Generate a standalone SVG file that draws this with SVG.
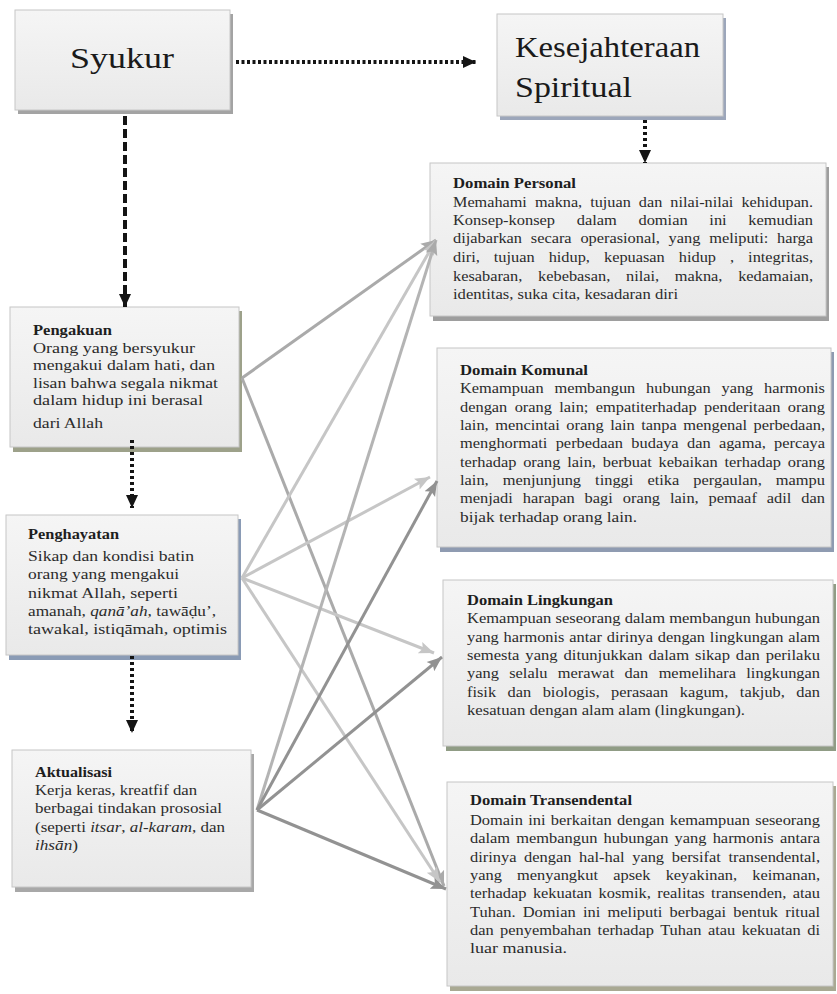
<svg xmlns="http://www.w3.org/2000/svg" width="837" height="994" viewBox="0 0 837 994">
<style>
.face{fill:url(#faceGrad);stroke:#c6c6c6;stroke-width:1}
.t{font-family:'Liberation Serif','Times New Roman',serif;fill:#2b2b2b}
.r{font-size:14px}
.l{font-size:15px}
.b{font-weight:bold;fill:#1e1e1e}
.big{font-size:30px;fill:#1a1a1a}
.blk{fill:none;stroke:#141414;stroke-width:4}
.gl{fill:none;stroke-width:3}
</style>
<defs>
<linearGradient id="faceGrad" x1="0" y1="0" x2="0" y2="1">
<stop offset="0" stop-color="#f5f5f5"/>
<stop offset="1" stop-color="#e9e9e9"/>
</linearGradient>
<marker id="aBlk" markerUnits="userSpaceOnUse" markerWidth="14" markerHeight="14" viewBox="0 0 14 14" refX="13" refY="7" orient="auto">
<path d="M0,1 L13,7 L0,13 z" fill="#141414"/>
</marker>
<marker id="aL" markerUnits="userSpaceOnUse" markerWidth="16" markerHeight="14" viewBox="0 0 16 14" refX="15" refY="7" orient="auto">
<path d="M0,1 L15,7 L0,13 L3,7 z" fill="#c6c6c6"/>
</marker>
<marker id="aM" markerUnits="userSpaceOnUse" markerWidth="16" markerHeight="14" viewBox="0 0 16 14" refX="15" refY="7" orient="auto">
<path d="M0,1 L15,7 L0,13 L3,7 z" fill="#aaaaaa"/>
</marker>
<marker id="aD" markerUnits="userSpaceOnUse" markerWidth="16" markerHeight="14" viewBox="0 0 16 14" refX="15" refY="7" orient="auto">
<path d="M0,1 L15,7 L0,13 L3,7 z" fill="#929292"/>
</marker>
</defs>
<rect width="837" height="994" fill="#ffffff"/>

<g id="syukur">
<rect x="18" y="14" width="215" height="100" fill="#a3a3a3"/>
<rect class="face" x="15" y="10" width="215" height="100"/>
<text class="t big" x="70" y="68" textLength="104" lengthAdjust="spacingAndGlyphs">Syukur</text>
</g>

<g id="kesejahteraan">
<rect x="500" y="18" width="226" height="102" fill="#9ca6ba"/>
<rect class="face" x="497" y="14" width="226" height="102"/>
<text class="t big" x="515" y="57" textLength="185" lengthAdjust="spacingAndGlyphs">Kesejahteraan</text>
<text class="t big" x="515" y="97" textLength="117" lengthAdjust="spacingAndGlyphs">Spiritual</text>
</g>

<g id="pengakuan">
<rect x="13" y="311" width="229" height="141" fill="#9da18a"/>
<rect class="face" x="10" y="307" width="229" height="140"/>
<text class="t l b" x="33" y="335" textLength="79" lengthAdjust="spacingAndGlyphs">Pengakuan</text>
<text class="t l" x="33" y="353" textLength="162" lengthAdjust="spacingAndGlyphs">Orang yang bersyukur</text>
<text class="t l" x="33" y="370" textLength="182" lengthAdjust="spacingAndGlyphs">mengakui dalam hati, dan</text>
<text class="t l" x="33" y="388" textLength="185" lengthAdjust="spacingAndGlyphs">lisan bahwa segala nikmat</text>
<text class="t l" x="33" y="405" textLength="170" lengthAdjust="spacingAndGlyphs">dalam hidup ini berasal</text>
<text class="t l" x="33" y="428" textLength="70" lengthAdjust="spacingAndGlyphs">dari Allah</text>
</g>

<g id="penghayatan">
<rect x="9" y="519" width="232" height="141" fill="#8a9bb5"/>
<rect class="face" x="6" y="515" width="232" height="140"/>
<text class="t l b" x="28" y="539" textLength="91" lengthAdjust="spacingAndGlyphs">Penghayatan</text>
<text class="t l" x="28" y="561" textLength="166" lengthAdjust="spacingAndGlyphs">Sikap dan kondisi batin</text>
<text class="t l" x="28" y="579" textLength="151" lengthAdjust="spacingAndGlyphs">orang yang mengakui</text>
<text class="t l" x="28" y="598" textLength="150" lengthAdjust="spacingAndGlyphs">nikmat Allah, seperti</text>
<text class="t l" x="28" y="616" textLength="188" lengthAdjust="spacingAndGlyphs">amanah, <tspan font-style="italic">qanā’ah</tspan>, tawāḍu’,</text>
<text class="t l" x="28" y="634" textLength="199" lengthAdjust="spacingAndGlyphs">tawakal, istiqāmah, optimis</text>
</g>

<g id="aktualisasi">
<rect x="15" y="754" width="239" height="138" fill="#a8a8a8"/>
<rect class="face" x="12" y="750" width="239" height="137"/>
<text class="t l b" x="35" y="777" textLength="77" lengthAdjust="spacingAndGlyphs">Aktualisasi</text>
<text class="t l" x="35" y="795" textLength="162" lengthAdjust="spacingAndGlyphs">Kerja keras, kreatfif dan</text>
<text class="t l" x="35" y="813" textLength="187" lengthAdjust="spacingAndGlyphs">berbagai tindakan prososial</text>
<text class="t l" x="35" y="832" textLength="190" lengthAdjust="spacingAndGlyphs">(seperti <tspan font-style="italic">itsar</tspan>, <tspan font-style="italic">al-karam</tspan>, dan</text>
<text class="t l" x="35" y="850" textLength="43" lengthAdjust="spacingAndGlyphs"><tspan font-style="italic">ihsān</tspan>)</text>
</g>

<g id="domain-personal">
<rect x="433" y="167" width="396" height="154" fill="#9e9e9e"/>
<rect class="face" x="430" y="163" width="396" height="153"/>
<text class="t r b" x="453" y="188" textLength="123" lengthAdjust="spacingAndGlyphs">Domain Personal</text>
<text class="t r" x="453" y="207" textLength="360" lengthAdjust="spacingAndGlyphs" word-spacing="3.5">Memahami makna, tujuan dan nilai-nilai kehidupan.</text>
<text class="t r" x="453" y="225" textLength="360" lengthAdjust="spacingAndGlyphs" word-spacing="15">Konsep-konsep dalam domian ini kemudian</text>
<text class="t r" x="453" y="243" textLength="360" lengthAdjust="spacingAndGlyphs" word-spacing="4">dijabarkan secara operasional, yang meliputi: harga</text>
<text class="t r" x="453" y="262" textLength="360" lengthAdjust="spacingAndGlyphs" word-spacing="8.5">diri, tujuan hidup, kepuasan hidup , integritas,</text>
<text class="t r" x="453" y="281" textLength="360" lengthAdjust="spacingAndGlyphs" word-spacing="10">kesabaran, kebebasan, nilai, makna, kedamaian,</text>
<text class="t r" x="453" y="299" textLength="225" lengthAdjust="spacingAndGlyphs">identitas, suka cita, kesadaran diri</text>
</g>

<g id="domain-komunal">
<rect x="440" y="352" width="394" height="200" fill="#8f9bb1"/>
<rect class="face" x="437" y="348" width="394" height="199"/>
<text class="t r b" x="460" y="375" textLength="128" lengthAdjust="spacingAndGlyphs">Domain Komunal</text>
<text class="t r" x="460" y="393" textLength="365" lengthAdjust="spacingAndGlyphs" word-spacing="5.8">Kemampuan membangun hubungan yang harmonis</text>
<text class="t r" x="460" y="412" textLength="365" lengthAdjust="spacingAndGlyphs" word-spacing="2.8">dengan orang lain; empatiterhadap penderitaan orang</text>
<text class="t r" x="460" y="430" textLength="365" lengthAdjust="spacingAndGlyphs" word-spacing="2">lain, mencintai orang lain tanpa mengenal perbedaan,</text>
<text class="t r" x="460" y="448" textLength="365" lengthAdjust="spacingAndGlyphs" word-spacing="3.6">menghormati perbedaan budaya dan agama, percaya</text>
<text class="t r" x="460" y="467" textLength="365" lengthAdjust="spacingAndGlyphs" word-spacing="2.3">terhadap orang lain, berbuat kebaikan terhadap orang</text>
<text class="t r" x="460" y="485" textLength="365" lengthAdjust="spacingAndGlyphs" word-spacing="8.5">lain, menjunjung tinggi etika pergaulan, mampu</text>
<text class="t r" x="460" y="503" textLength="365" lengthAdjust="spacingAndGlyphs" word-spacing="5">menjadi harapan bagi orang lain, pemaaf adil dan</text>
<text class="t r" x="460" y="522" textLength="177" lengthAdjust="spacingAndGlyphs">bijak terhadap orang lain.</text>
</g>

<g id="domain-lingkungan">
<rect x="446" y="584" width="390" height="167" fill="#909c85"/>
<rect class="face" x="443" y="580" width="390" height="166"/>
<text class="t r b" x="467" y="605" textLength="146" lengthAdjust="spacingAndGlyphs">Domain Lingkungan</text>
<text class="t r" x="467" y="623" textLength="353" lengthAdjust="spacingAndGlyphs">Kemampuan seseorang dalam membangun hubungan</text>
<text class="t r" x="467" y="642" textLength="353" lengthAdjust="spacingAndGlyphs" word-spacing="0.6">yang harmonis antar dirinya dengan lingkungan alam</text>
<text class="t r" x="467" y="660" textLength="353" lengthAdjust="spacingAndGlyphs" word-spacing="1.5">semesta yang ditunjukkan dalam sikap dan perilaku</text>
<text class="t r" x="467" y="678" textLength="353" lengthAdjust="spacingAndGlyphs" word-spacing="5.4">yang selalu merawat dan memelihara lingkungan</text>
<text class="t r" x="467" y="697" textLength="353" lengthAdjust="spacingAndGlyphs" word-spacing="6.3">fisik dan biologis, perasaan kagum, takjub, dan</text>
<text class="t r" x="467" y="715" textLength="278" lengthAdjust="spacingAndGlyphs">kesatuan dengan alam alam (lingkungan).</text>
</g>

<g id="domain-transendental">
<rect x="450" y="786" width="386" height="205" fill="#a9a993"/>
<rect class="face" x="447" y="782" width="386" height="204"/>
<text class="t r b" x="470" y="805" textLength="162" lengthAdjust="spacingAndGlyphs">Domain Transendental</text>
<text class="t r" x="470" y="825" textLength="350" lengthAdjust="spacingAndGlyphs" word-spacing="1">Domain ini berkaitan dengan kemampuan seseorang</text>
<text class="t r" x="470" y="843" textLength="350" lengthAdjust="spacingAndGlyphs" word-spacing="1.8">dalam membangun hubungan yang harmonis antara</text>
<text class="t r" x="470" y="862" textLength="350" lengthAdjust="spacingAndGlyphs" word-spacing="3">dirinya dengan hal-hal yang bersifat transendental,</text>
<text class="t r" x="470" y="880" textLength="350" lengthAdjust="spacingAndGlyphs" word-spacing="9.5">yang menyangkut apsek keyakinan, keimanan,</text>
<text class="t r" x="470" y="898" textLength="350" lengthAdjust="spacingAndGlyphs" word-spacing="2">terhadap kekuatan kosmik, realitas transenden, atau</text>
<text class="t r" x="470" y="917" textLength="350" lengthAdjust="spacingAndGlyphs" word-spacing="2.7">Tuhan. Domian ini meliputi berbagai bentuk ritual</text>
<text class="t r" x="470" y="935" textLength="350" lengthAdjust="spacingAndGlyphs" word-spacing="2">dan penyembahan terhadap Tuhan atau kekuatan di</text>
<text class="t r" x="470" y="953" textLength="97" lengthAdjust="spacingAndGlyphs">luar manusia.</text>
</g>

<g id="connectors">
<path class="blk" d="M236,62 H476" stroke-dasharray="3 2.5" marker-end="url(#aBlk)"/>
<path class="blk" d="M645,120 V163" stroke-dasharray="3 3" marker-end="url(#aBlk)"/>
<path class="blk" d="M125,116 V307" stroke-dasharray="9 4" marker-end="url(#aBlk)"/>
<path class="blk" d="M132,440 V508" stroke-dasharray="3 3" marker-end="url(#aBlk)"/>
<path class="blk" d="M132,656 V733" stroke-dasharray="3 3" marker-end="url(#aBlk)"/>

<path class="gl" d="M242,378 L436,240" stroke="#aaaaaa" marker-end="url(#aM)"/>
<path class="gl" d="M242,378 L444,886" stroke="#aaaaaa" marker-end="url(#aM)"/>

<path class="gl" d="M242,578 L436,240" stroke="#c6c6c6" marker-end="url(#aL)"/>
<path class="gl" d="M242,578 L430,477" stroke="#c6c6c6" marker-end="url(#aL)"/>
<path class="gl" d="M242,578 L434,653" stroke="#c6c6c6" marker-end="url(#aL)"/>
<path class="gl" d="M242,578 L440,882" stroke="#c6c6c6" marker-end="url(#aL)"/>

<path class="gl" d="M257,810 L436,240" stroke="#b4b4b4" marker-end="url(#aM)"/>
<path class="gl" d="M257,810 L437,481" stroke="#929292" marker-end="url(#aD)"/>
<path class="gl" d="M257,810 L442,657" stroke="#929292" marker-end="url(#aD)"/>
<path class="gl" d="M257,810 L446,889" stroke="#929292" marker-end="url(#aD)"/>
</g>
</svg>
